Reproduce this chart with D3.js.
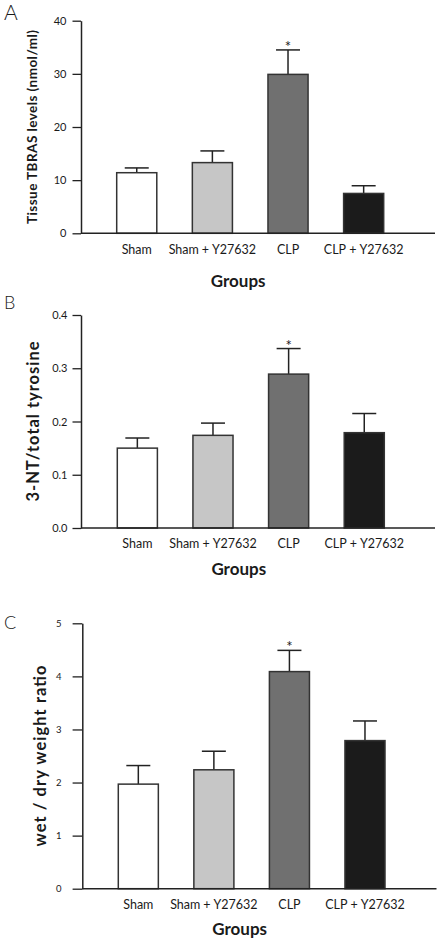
<!DOCTYPE html>
<html>
<head>
<meta charset="utf-8">
<script src="https://cdn.jsdelivr.net/npm/d3@7"></script>
<style>
  html, body { margin: 0; padding: 0; background: #fff; }
  svg { display: block; }
  text { font-family: "Lato", "Open Sans", sans-serif; fill: #1a1a1a; }
</style>
</head>
<body>
<svg id="chart" width="437" height="940"></svg>
<script>
// ---- data ----
const categories = ["Sham", "Sham+Y27632", "CLP", "CLP+Y27632"];
const barColors = ["#ffffff", "#c6c6c6", "#707070", "#1b1b1b"];
const significance = ["", "", "*", ""];

const tbarsMeans = [11.4, 13.3, 29.9, 7.5];
const tbarsErr = [0.9, 2.2, 4.6, 1.45];
const tbarsTicks = [0, 10, 20, 30, 40];

const ntMeans = [0.15, 0.174, 0.289, 0.179];
const ntErr = [0.019, 0.023, 0.048, 0.036];
const ntTicks = [0.0, 0.1, 0.2, 0.3, 0.4];

const wdMeans = [1.97, 2.24, 4.09, 2.79];
const wdErr = [0.35, 0.35, 0.40, 0.37];
const wdTicks = [0, 1, 2, 3, 4, 5];

const panels = [
  { letter: "A", means: tbarsMeans, err: tbarsErr, ticks: tbarsTicks, max: 40, fmt: d3.format("d"),
    ylabel: "Tissue TBRAS levels (nmol/ml)", ylabelSize: 13.5, ylabelLen: 194, ylabelX: 32,
    top: 20.7, bottom: 233.3, left: 81, right: 435, barL: 116.7, barR: 383.7,
    tickFont: 11, tickPad: 6, tickLen: 8.5,
    catY: 254, groupsY: 287, letterY: 20, letterSize: 21 },
  { letter: "B", means: ntMeans, err: ntErr, ticks: ntTicks, max: 0.4, fmt: d3.format(".1f"),
    ylabel: "3-NT/total tyrosine", ylabelSize: 16.5, ylabelLen: 160, ylabelX: 33.5,
    top: 315, bottom: 528, left: 81, right: 435, barL: 117.3, barR: 384.3,
    tickFont: 11, tickPad: 5, tickLen: 8.5,
    catY: 548, groupsY: 575, letterY: 309, letterSize: 18 },
  { letter: "C", means: wdMeans, err: wdErr, ticks: wdTicks, max: 5, fmt: d3.format("d"),
    ylabel: "wet / dry weight ratio", ylabelSize: 16.5, ylabelLen: 181, ylabelX: 40,
    top: 623.3, bottom: 888.7, left: 82.3, right: 436.5, barL: 118.3, barR: 385,
    tickFont: 9.5, tickPad: 11, tickLen: 9.7,
    catY: 909, groupsY: 935, letterY: 628.5, letterSize: 18 }
];

const svg = d3.select("#chart");

panels.forEach(p => {
  const g = svg.append("g");

  const y = d3.scaleLinear().domain([0, p.max]).range([p.bottom, p.top]);
  const x = d3.scaleBand().domain(categories).range([p.barL, p.barR])
    .paddingInner(0.47).paddingOuter(0);

  const data = categories.map((c, i) => ({ c, m: p.means[i], e: p.err[i], col: barColors[i], sig: significance[i] }));

  // error bars
  const eb = g.append("g").attr("stroke", "#222").attr("stroke-width", 1.5);
  data.forEach(d => {
    const cx = x(d.c) + x.bandwidth() / 2;
    eb.append("line").attr("x1", cx).attr("x2", cx).attr("y1", y(d.m)).attr("y2", y(d.m + d.e));
    eb.append("line").attr("x1", cx - 12).attr("x2", cx + 12).attr("y1", y(d.m + d.e)).attr("y2", y(d.m + d.e));
  });

  // bars
  g.append("g").selectAll("rect").data(data).join("rect")
    .attr("x", d => x(d.c))
    .attr("width", x.bandwidth())
    .attr("y", d => y(d.m))
    .attr("height", d => y(0) - y(d.m))
    .attr("fill", d => d.col)
    .attr("stroke", "#333")
    .attr("stroke-width", 1.5);

  // asterisks
  g.append("g").selectAll("text").data(data.filter(d => d.sig)).join("text")
    .attr("x", d => x(d.c) + x.bandwidth() / 2)
    .attr("y", d => y(d.m + d.e) + 2)
    .attr("text-anchor", "middle")
    .attr("font-size", 15)
    .attr("fill", "#444")
    .text(d => d.sig);

  // y axis
  const ya = g.append("g").attr("transform", `translate(${p.left},0)`)
    .call(d3.axisLeft(y).tickValues(p.ticks).tickFormat(p.fmt).tickSize(p.tickLen).tickSizeOuter(0).tickPadding(p.tickPad));
  ya.select(".domain").attr("stroke", "#222").attr("stroke-width", 1.5);
  ya.selectAll(".tick line").attr("stroke", "#222").attr("stroke-width", 1.3);
  ya.selectAll(".tick text").attr("font-size", p.tickFont).attr("font-family", "Lato, sans-serif").attr("fill", "#1a1a1a");

  // x axis baseline
  const xa = g.append("g").attr("transform", `translate(0,${p.bottom})`)
    .call(d3.axisBottom(x).tickSize(0).tickPadding(0));
  xa.select(".domain").remove();
  xa.selectAll(".tick text").remove();
  xa.append("line").attr("x1", p.left).attr("x2", p.right).attr("y1", 0).attr("y2", 0)
    .attr("stroke", "#222").attr("stroke-width", 1.5);

  // category labels (wide spacing around "+")
  const cl = g.append("g").selectAll("text").data(categories).join("text")
    .attr("x", d => x(d) + x.bandwidth() / 2)
    .attr("y", p.catY)
    .attr("text-anchor", "middle")
    .attr("font-size", 12.5);
  cl.each(function(d) {
    const t = d3.select(this);
    const parts = d.split("+");
    if (parts.length === 1) { t.text(d); return; }
    t.append("tspan").text(parts[0]);
    t.append("tspan").attr("dx", 3).text("+");
    t.append("tspan").attr("dx", 3).text(parts[1]);
  });

  // x title
  g.append("text")
    .attr("x", (p.barL + p.barR) / 2 - 12)
    .attr("y", p.groupsY)
    .attr("text-anchor", "middle")
    .attr("font-size", 17)
    .attr("font-weight", "bold")
    .text("Groups");

  // y title
  g.append("text")
    .attr("transform", `translate(${p.ylabelX + p.ylabelSize * 0.35},${(p.top + p.bottom) / 2}) rotate(-90)`)
    .attr("text-anchor", "middle")
    .attr("font-size", p.ylabelSize)
    .attr("font-weight", "bold")
    .attr("textLength", p.ylabelLen)
    .attr("lengthAdjust", "spacing")
    .text(p.ylabel);

  // panel letter
  g.append("text")
    .attr("x", 4)
    .attr("y", p.letterY)
    .attr("font-size", p.letterSize)
    .attr("font-weight", 300)
    .text(p.letter);
});
</script>
</body>
</html>
